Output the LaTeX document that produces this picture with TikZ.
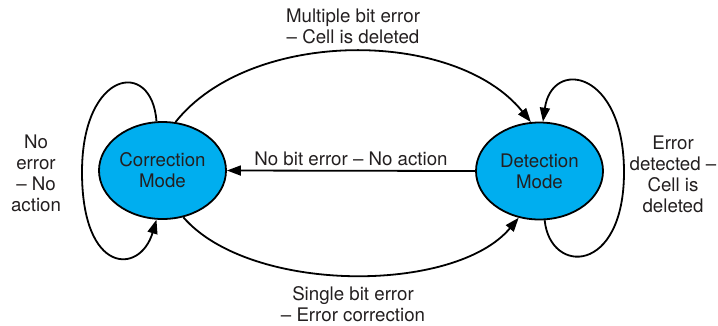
\documentclass[tikz,border=0pt]{standalone}
\usepackage{fontspec}
\setmainfont{TeX Gyre Heros}
\usetikzlibrary{arrows.meta}
\usetikzlibrary{shapes.geometric}
\definecolor{modecyan}{HTML}{00AEEF}
\definecolor{inkgray}{HTML}{231F20}

\begin{document}
\begin{tikzpicture}[x=1bp, y=-1bp, line width=1.8bp,
        font=\fontsize{18.7bp}{21bp}\selectfont,
        mode/.style={ellipse, draw, fill=modecyan, minimum width=127bp, minimum height=97bp, inner sep=0pt, align=center, text=inkgray},
        lbl/.style={align=center, text=inkgray, inner sep=1bp},
        arr/.style={-{Triangle[length=14bp,width=10bp]}}]
        \useasboundingbox (0,0) rectangle (718,325);
        \pgfmathsetmacro{\midx}{353};
        \node [mode] (cor) at (162.5, 170.5) {Correction\\Mode};
        \node [mode] (det) at (539.5, 171) {Detection\\Mode};
        \draw [arr] (det.west) -- (cor.east) node [lbl, above=3bp, midway] (nobit) {No bit error -- No action};
        \draw [arr] (cor.75) .. controls (250, 28) and (455, 28) .. (det.100);
        \draw [arr] (cor.-66) .. controls (250, 294) and (455, 294) .. (det.-114);
        \draw [arr] (cor.97) .. controls (152, 58) and (82, 70) .. (82, 172) .. controls (82, 275) and (140, 275) .. (cor.-97);
        \draw [arr] (det.-84) .. controls (550, 275) and (624, 275) .. (624, 172) .. controls (624, 70) and (552, 58) .. (det.86);
        \node [lbl] (multi) at (\midx, 26) {Multiple bit error\\-- Cell is deleted};
        \node [lbl, inner sep=0pt] (single) at (\midx, 304) {Single bit error\\-- Error correction};
        \node [lbl] (noerr) at (36, 173) {No\\error\\-- No\\action};
        \node [lbl] (errdet) at (673, 174) {Error\\detected --\\Cell is\\deleted};
    \end{tikzpicture}
\end{document}
